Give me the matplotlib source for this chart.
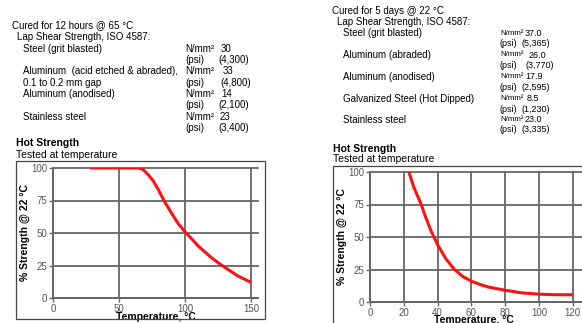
import matplotlib
matplotlib.use("Agg")
import matplotlib.pyplot as plt
from matplotlib.patches import Rectangle

W, H = 582, 323
plt.rcParams["font.family"] = ["Liberation Sans Narrow", "Liberation Sans", "DejaVu Sans"]

# left panel: cured 12 h @ 65 C
left_rows = ["Steel (grit blasted)", "Aluminum  (acid etched & abraded),", "Aluminum (anodised)", "Stainless steel"]
left_extra = ["", "0.1 to 0.2 mm gap", "", ""]
left_nmm = ["30", "33", "14", "23"]
left_psi = ["(4,300)", "(4,800)", "(2,100)", "(3,400)"]
left_temp = [28, 45, 65, 68, 72, 76, 80, 84, 90, 95, 100, 110, 120, 128, 140, 150]
left_strength = [100, 100, 100, 99, 95, 90, 83, 75, 65, 57, 51, 40, 31, 25, 17, 12]

# right panel: cured 5 days @ 22 C
right_rows = ["Steel (grit blasted)", "Aluminum (abraded)", "Aluminum (anodised)",
              "Galvanized Steel (Hot Dipped)", "Stainless steel"]
right_nmm = ["37.0", "26.0", "17.9", "8.5", "23.0"]
right_psi = ["(5,365)", "(3,770)", "(2,595)", "(1,230)", "(3,335)"]
right_temp = [23, 26, 30, 33, 36, 40, 45, 50, 55, 60, 65, 70, 80, 90, 100, 110, 120]
right_strength = [100, 88, 76, 65, 55, 44, 33, 25, 19.5, 16, 13.5, 11.5, 9, 7, 6, 5.6, 5.6]

fig = plt.figure(figsize=(W / 100, H / 100), dpi=100)


def txt(x, y, s, **kw):
    kw.setdefault("fontsize", 7)
    kw.setdefault("va", "center")
    fig.text(x / W, 1 - y / H, s, **kw)


def box(x0, y0, x1, y1):
    fig.patches.append(Rectangle((x0 / W, 1 - y1 / H), (x1 - x0) / W, (y1 - y0) / H,
                                 transform=fig.transFigure, fill=False,
                                 edgecolor="#444444", linewidth=0.9))


def add_ax(px_left, px_right, px_top, px_bottom):
    return fig.add_axes([px_left / W, 1 - px_bottom / H,
                         (px_right - px_left) / W, (px_bottom - px_top) / H])


def style(ax, xlim, xticks):
    ax.set_xlim(*xlim)
    ax.set_ylim(0, 100)
    ax.set_xticks(xticks)
    ax.set_yticks([0, 25, 50, 75, 100])
    ax.grid(True, color="#666666", linewidth=1.3)
    for s in ["top", "right"]:
        ax.spines[s].set_visible(False)
    for s in ["left", "bottom"]:
        ax.spines[s].set_color("#666666")
        ax.spines[s].set_linewidth(1.3)
    ax.tick_params(length=3, width=1, color="#666666", labelsize=7, labelcolor="#555555", pad=1)
    ax.set_facecolor("none")
    for ln in ax.get_xgridlines() + ax.get_ygridlines():
        ln.set_clip_on(False)


# left text block
txt(12, 25, "Cured for 12 hours @ 65 \u00b0C")
txt(17, 36.5, "Lap Shear Strength, ISO 4587:")
ys = [49, 71.5, 94, 117.5]
nmm_x = [221, 223, 221, 220]
psi_x = [218, 220.5, 218, 218]
for i, y in enumerate(ys):
    txt(23, y, left_rows[i])
    if left_extra[i]:
        txt(23, y + 11, left_extra[i])
    txt(185, y, "N/mm\u00b2")
    txt(nmm_x[i], y, left_nmm[i])
    txt(185, y + 11, "(psi)")
    txt(psi_x[i], y + 11, left_psi[i])

# right text block
txt(332, 11, "Cured for 5 days @ 22 \u00b0C")
txt(337, 22, "Lap Shear Strength, ISO 4587:")
ys = [33.3, 55, 76.7, 98.7, 119.5]
nmm_x = [525, 529, 525, 527, 525]
psi_x = [521.5, 525.5, 521.5, 521, 521.5]
for i, y in enumerate(ys):
    txt(343, y, right_rows[i])
    txt(500, y, "N/mm\u00b2", fontsize=5.7)
    txt(nmm_x[i], y, right_nmm[i], fontsize=6.5)
    txt(500, y + 10.5, "(psi)", fontsize=6.5)
    txt(psi_x[i], y + 10.5, right_psi[i], fontsize=6.5)

# chart headers
txt(16, 142.5, "Hot Strength", fontweight="bold", fontsize=7.5)
txt(16, 155, "Tested at temperature", fontsize=7.5)
txt(333, 148.5, "Hot Strength", fontweight="bold", fontsize=7.5)
txt(333, 159.5, "Tested at temperature", fontsize=7.5)

box(16, 161, 265, 319)
box(333, 166, 600, 340)

# left chart
ax1 = add_ax(53, 258, 168, 298)
style(ax1, (0, 155.3), [0, 50, 100, 150])
ax1.plot(left_temp, left_strength, color="#ff1010", linewidth=2.2, solid_capstyle="butt")
ax1.set_ylabel("% Strength @ 22 \u00b0C", fontsize=7.5, fontweight="bold")
ax1.yaxis.set_label_coords(-0.137, 0.5)
ax1.set_xlabel("Temperature, \u00b0C", fontsize=7.5, fontweight="bold")
ax1.xaxis.set_label_coords(0.5, -0.144)
ax1.xaxis.label.set_va("center")
ax1.yaxis.label.set_va("center")

# right chart
ax2 = add_ax(370, 583, 172, 302)
style(ax2, (0, 126), [0, 20, 40, 60, 80, 100, 120])
ax2.plot(right_temp, right_strength, color="#ff1010", linewidth=2.2, solid_capstyle="butt")
ax2.set_ylabel("% Strength @ 22 \u00b0C", fontsize=7.5, fontweight="bold")
ax2.yaxis.set_label_coords(-0.133, 0.5)
ax2.set_xlabel("Temperature, \u00b0C", fontsize=7.5, fontweight="bold")
ax2.xaxis.set_label_coords(0.49, -0.138)
ax2.xaxis.label.set_va("center")
ax2.yaxis.label.set_va("center")

fig.savefig("out.png", dpi=100)
